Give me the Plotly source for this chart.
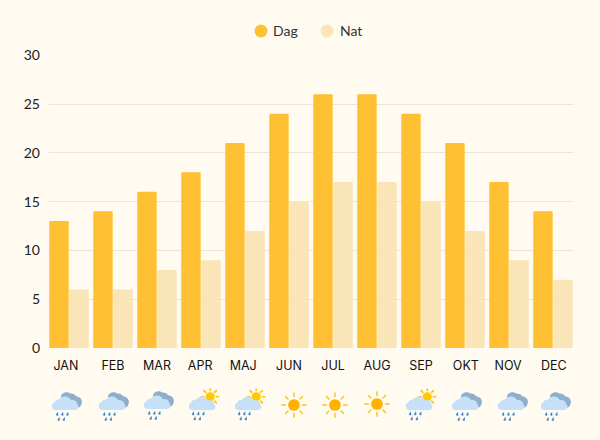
import base64
import math
import plotly.graph_objects as go

months = ["JAN", "FEB", "MAR", "APR", "MAJ", "JUN", "JUL", "AUG", "SEP", "OKT", "NOV", "DEC"]
dag = [13, 14, 16, 18, 21, 24, 26, 26, 24, 21, 17, 14]
nat = [6, 6, 8, 9, 12, 15, 17, 17, 15, 12, 9, 7]
y_ticks = [0, 5, 10, 15, 20, 25, 30]
series_names = ["Dag", "Nat"]
weather = ["rain", "rain", "rain", "sunrain", "sunrain", "sun", "sun", "sun", "sunrain", "rain", "rain", "rain"]
icon_x_px = [66, 113, 158, 203, 249, 294, 335, 377, 420, 466, 512, 555]
icon_y_px = [407, 407, 406, 405, 405, 405, 405, 404, 405, 407, 407, 407]
label_offset = [-0.07, 0, 0, -0.02, -0.04, 0, 0, 0, 0, 0.02, -0.02, 0.02]

BG = "#FFFBF1"
C_DAG = "#FFC033"
C_NAT = "#FAE5B8"
L, R, T, B = 49, 573, 55, 348
W, H = 600, 440


def sun_svg(cx, cy, r, ray1, ray2, col="#FFB300", raycol="#FFC21A"):
    rays = ""
    for k in range(8):
        a = k * math.pi / 4
        rays += (f'<line x1="{cx+ray1*math.cos(a):.1f}" y1="{cy+ray1*math.sin(a):.1f}" '
                 f'x2="{cx+ray2*math.cos(a):.1f}" y2="{cy+ray2*math.sin(a):.1f}" '
                 f'stroke="{raycol}" stroke-width="1.6" stroke-linecap="round"/>')
    return rays + f'<circle cx="{cx}" cy="{cy}" r="{r}" fill="{col}"/>'


def drops(xs, y):
    out = ""
    for row, dy in ((0, 0), (1, 5)):
        for x in (xs[:3] if row == 0 else xs[:2]):
            xx = x - 1 + (row * 1.5)
            out += (f'<path d="M{xx+1.2} {y+dy} L{xx-0.8} {y+dy+2.8} A1.3 1.3 0 0 0 {xx+1.5} {y+dy+3.4} Z" fill="#3E86CC"/>')
    return out


CLOUD = ('<path fill="#C6E0F8" d="M5 19 A4 4 0 0 1 4.5 11.5 A4 4 0 0 1 9 9 A7 7 0 0 1 21 9.5 '
         'A4.5 4.5 0 0 1 27 13 A3.5 3.5 0 0 1 25 19 Z"/>')
DARK = ('<path fill="#8FAECB" d="M11 6 A5.5 5.5 0 0 1 20 3 A6 6 0 0 1 26 5.5 A5.5 5.5 0 0 1 31 13 '
        'A4.5 4.5 0 0 1 26 16.5 L16 10 Z"/>')


def icon(kind):
    if kind == "sun":
        body = sun_svg(15, 15, 6.5, 9.5, 13.5)
        vb = 30
    elif kind == "sunrain":
        body = sun_svg(23, 8, 4.4, 6, 8.5, col="#FFC800") + CLOUD.replace('d="M', 'transform="translate(0,2)" d="M') + drops([7, 12, 17], 22)
        vb = 32
    else:
        body = DARK + CLOUD + drops([8, 13, 18], 20.5)
        vb = 32
    svg = f'<svg xmlns="http://www.w3.org/2000/svg" width="{vb*4}" height="{vb*4}" viewBox="0 0 {vb} {vb}">{body}</svg>'
    return "data:image/svg+xml;base64," + base64.b64encode(svg.encode()).decode()


x = list(range(len(months)))
fig = go.Figure()
fig.add_bar(x=x, y=dag, name=series_names[0], marker=dict(color=C_DAG, line=dict(width=0)), showlegend=False, hoverinfo="skip")
fig.add_bar(x=x, y=nat, name=series_names[1], marker=dict(color=C_NAT, line=dict(width=0)), showlegend=False, hoverinfo="skip")

images = []
for k, px, py in zip(weather, icon_x_px, icon_y_px):
    size = 33 if k != "sun" else 27
    images.append(dict(source=icon(k), xref="paper", yref="paper",
                       x=(px - L) / (R - L), y=(B - py) / (B - T),
                       sizex=size / (R - L), sizey=size / (B - T),
                       xanchor="center", yanchor="middle", layer="above"))

# Legend key: circles and real text placed in pixel-derived paper coordinates
shapes = []
annotations = []
legend_y = (B - 31) / (B - T)
for name, col, cx, tx in zip(series_names, [C_DAG, C_NAT], [261, 327], [273, 340]):
    shapes.append(dict(type="circle", xref="paper", yref="paper", layer="above",
                       x0=(cx - 6.5 - L) / (R - L), x1=(cx + 6.5 - L) / (R - L),
                       y0=legend_y - 6.5 / (B - T), y1=legend_y + 6.5 / (B - T),
                       fillcolor=col, line=dict(width=0)))
    annotations.append(dict(text=name, xref="paper", yref="paper", showarrow=False,
                            x=(tx - L) / (R - L), y=legend_y, xanchor="left", yanchor="middle", xshift=-2,
                            font=dict(family="Lato, sans-serif", size=14, color="#333333")))

fig.update_layout(
    width=W, height=H,
    margin=dict(l=L, r=W - R, t=T, b=H - B, autoexpand=False),
    paper_bgcolor=BG, plot_bgcolor=BG,
    barmode="group", bargap=0.09, bargroupgap=0.03, barcornerradius=1,
    font=dict(family="Lato, sans-serif", color="#222222"),
    showlegend=False,
    shapes=shapes, annotations=annotations,
    xaxis=dict(range=[-0.4545, 11.4545], tickmode="array", automargin=False,
               tickvals=[i + o for i, o in zip(x, label_offset)], ticktext=months,
               showgrid=False, zeroline=False, ticks="", showline=False, ticklen=0,
               ticklabelstandoff=8,
               tickfont=dict(family="Inter, sans-serif", size=12.5, color="#111111")),
    yaxis=dict(range=[0, 30.02], tickmode="array", tickvals=y_ticks, showgrid=True, automargin=False,
               gridcolor="#E9E5D9", gridwidth=1, zeroline=False, ticks="", showline=False,
               ticklabelstandoff=8,
               tickfont=dict(family="Lato, sans-serif", size=14, color="#222222")),
    images=images,
)

fig.write_html("out.html", config={"displayModeBar": False},
               post_script="document.body.style.margin='0';document.body.style.background='#FFFBF1';")
